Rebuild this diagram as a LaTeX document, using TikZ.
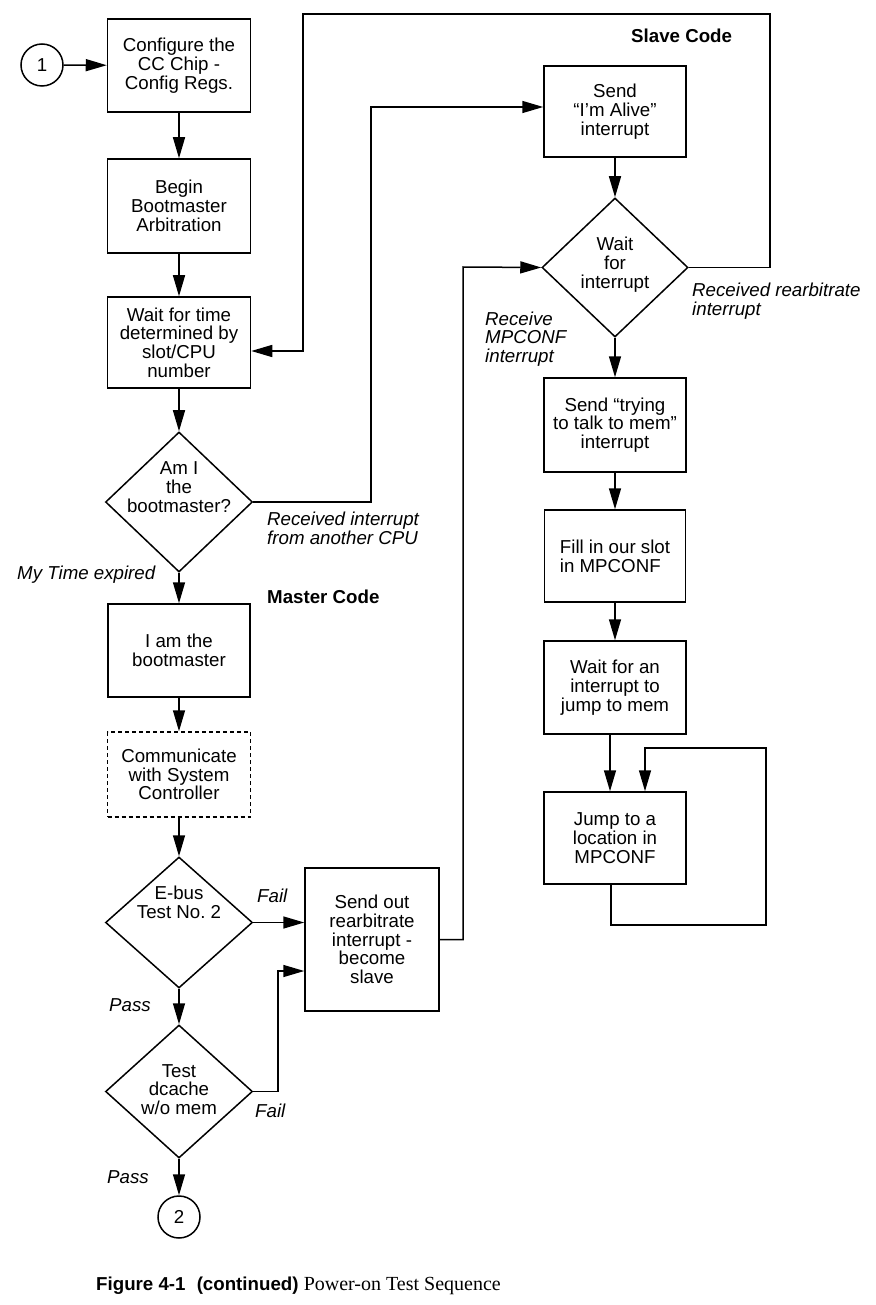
\documentclass[tikz,border=0pt]{standalone}
\usepackage{fontspec}
\setmainfont{Liberation Sans}
\newfontfamily\capserif{Liberation Serif}
\usetikzlibrary{arrows.meta,shapes.geometric}
\begin{document}
\begin{tikzpicture}[x=1pt,y=-1pt,
  every node/.style={font=\fontsize{18.7}{18.7}\selectfont, inner sep=0pt},
  box/.style={draw, line width=1.5pt, rectangle, align=center, minimum width=143pt, minimum height=93pt},
  dbox/.style={box, dash pattern=on 4pt off 3pt},
  dec/.style={draw, line width=1.5pt, diamond, minimum width=147pt, minimum height=136pt},
  conn/.style={circle, draw, line width=1.5pt, minimum size=42pt},
  arr/.style={-{Triangle[length=21pt,width=12pt]}, line width=1.5pt},
  lab/.style={font=\fontsize{18.7}{18.7}\selectfont\itshape, align=left},
  head/.style={font=\fontsize{18.7}{18.7}\selectfont\bfseries}]
\useasboundingbox (0,0) rectangle (875,1305);

% left column
\node[conn] (c1) at (42,65) {1};
\node[box] (b1) at (179,65.5) {Configure the\\CC Chip -\\Config Regs.};
\node[box, minimum height=94pt] (b2) at (179,206) {Begin\\Bootmaster\\Arbitration};
\node[box, minimum height=91pt] (b3) at (179,342.5) {Wait for time\\determined by\\slot/CPU\\number};
\node[dec, minimum height=140pt, label={[yshift=15pt,align=center]center:{Am I\\the\\bootmaster?}}] (dAm) at (179,502) {};
\node[box, minimum width=142pt] (bIam) at (179,650.5) {I am the\\bootmaster};
\node[dbox, minimum height=85pt] (bComm) at (179,774.5) {Communicate\\with System\\Controller};
\node[dec, minimum height=131pt, label={[yshift=20pt,align=center]center:{E-bus\\Test No.\ 2}}] (dEbus) at (179,922.5) {};
\node[dec, minimum height=133pt, label={[yshift=2pt,align=center]center:{Test\\dcache\\w/o mem}}] (dDc) at (179,1091.5) {};
\node[conn] (c2) at (179,1217) {2};

\node[box, minimum width=134pt, minimum height=143pt] (bSend) at (372,939.5) {Send out\\rearbitrate\\interrupt -\\become\\slave};

% right column
\node[box, minimum width=142pt, minimum height=91pt] (bAlive) at (615,111.5) {Send\\“I’m Alive”\\interrupt};
\node[dec, minimum width=146pt, minimum height=139pt, label={[yshift=3pt,align=center]center:{Wait\\for\\interrupt}}] (dWait) at (615,267.5) {};
\node[box, minimum width=142pt, minimum height=94pt] (bTry) at (615,425) {Send “trying\\to talk to mem”\\interrupt};
\node[box, minimum width=141pt, minimum height=92pt, align=left] (bFill) at (615,556) {Fill in our slot\\in MPCONF};
\node[box, minimum width=142pt, minimum height=93pt] (bWaitAn) at (615,687.5) {Wait for an\\interrupt to\\jump to mem};
\node[box, minimum width=142pt, minimum height=92pt] (bJump) at (615,838) {Jump to a\\location in\\MPCONF};

% labels
\node[head, anchor=base west] (tSlave) at (631,43) {Slave Code};
\node[head, anchor=base west] (tMaster) at (267,603) {Master Code};
\node[lab, anchor=west] (tRecv) at (267,528) {Received interrupt\\from another CPU};
\node[lab, anchor=base west] (tTime) at (17,579) {My Time expired};
\node[lab, anchor=west] (tRearb) at (692,301) {Received rearbitrate\\interrupt};
\node[lab, anchor=west] (tMpc) at (485,339) {Receive\\MPCONF\\interrupt};
\node[lab, anchor=base west] (tFail1) at (257,902) {Fail};
\node[lab, anchor=base west] (tPass1) at (109,1011) {Pass};
\node[lab, anchor=base west] (tFail2) at (255,1117) {Fail};
\node[lab, anchor=base west] (tPass2) at (107,1183) {Pass};
\node[anchor=base west] (cap) at (96,1290) {\textbf{Figure 4-1\hspace{0.6em}(continued)} {\capserif\fontsize{20}{20}\selectfont Power-on Test Sequence}};

% coordinates
\coordinate (r1) at (770,14);
\coordinate (r2) at (303,351);
\coordinate (m1) at (371,107);
\coordinate (f1) at (278,971);
\coordinate (s2) at (463,267);
\coordinate (l1) at (766,925);
\coordinate (l2) at (645,748);

% connectors left
\draw[arr] (c1) -- (b1);
\draw[arr] (b1) -- (b2);
\draw[arr] (b2) -- (b3);
\draw[arr] (b3) -- (dAm);
\draw[arr] (dAm) -- (bIam);
\draw[arr] (bIam) -- (bComm);
\draw[arr] (bComm) -- (dEbus);
\draw[arr] (dEbus) -- (dDc);
\draw[arr] (dDc) -- (c2);
\draw[arr] (dEbus.east) -- (dEbus.east -| bSend.west);
\draw[arr] (dDc.east) -| (f1) -- (f1 -| bSend.west);
\draw[arr] (bSend.east) -| (s2) -- (dWait.west);
\draw[arr] (dAm.east) -| (m1) -- (m1 -| bAlive.west);
\draw[arr] (dWait.east) -| (r1) -| (r2) -- (r2 -| b3.east);

% connectors right
\draw[arr] (bAlive) -- (dWait);
\draw[arr] (dWait) -- (bTry);
\draw[arr] (bTry) -- (bFill);
\draw[arr] (bFill) -- (bWaitAn);
\draw[arr] ([xshift=-5pt]bWaitAn.south) -- ([xshift=-5pt]bWaitAn.south |- bJump.north);
\draw[arr] ([xshift=-4pt]bJump.south) |- (l1) |- (l2) -- (l2 |- bJump.north);
\end{tikzpicture}
\end{document}
